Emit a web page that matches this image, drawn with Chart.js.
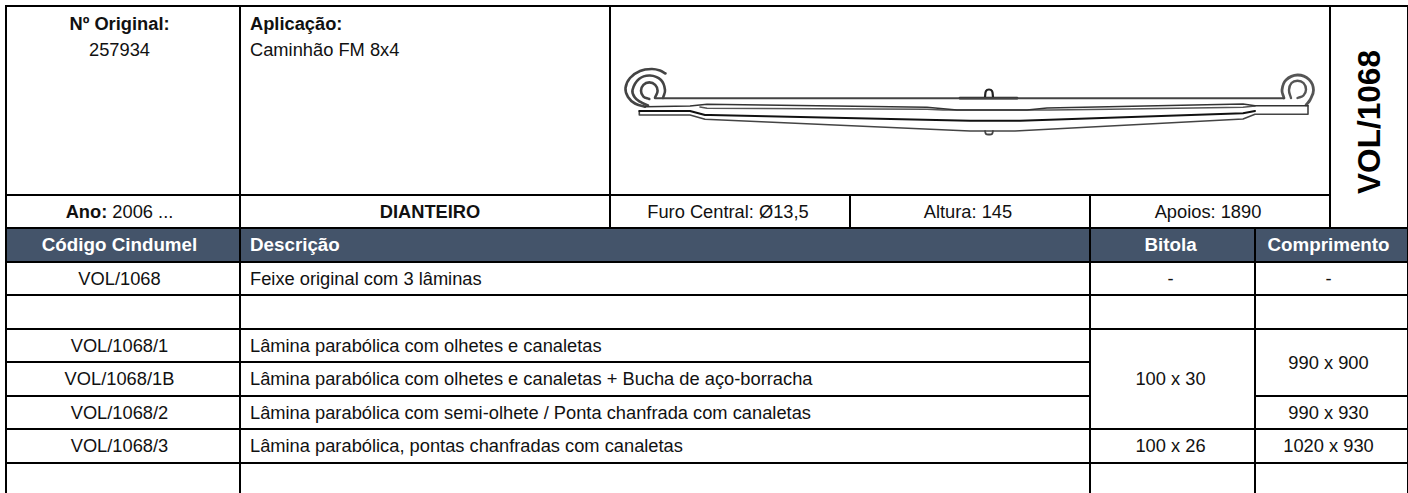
<!DOCTYPE html>
<html lang="pt">
<head>
<meta charset="utf-8">
<title>VOL/1068</title>
<script src="https://cdn.jsdelivr.net/npm/chart.js@4"></script>
<style>
html, body { margin: 0; padding: 0; background: #fff; overflow: hidden; width: 1408px; height: 493px; }
body { font-family: "Liberation Sans", Arial, sans-serif; font-size: 18.3px; color: #111; }
#ficha { position: absolute; left: 5px; top: 5px; width: 1402px; border-collapse: collapse; table-layout: fixed; }
#ficha td { border: 2px solid #000; padding: 0 11px 0 7px; text-align: center; vertical-align: middle; white-space: nowrap; overflow: hidden; line-height: 20px; }
#ficha td.esq { text-align: left; padding: 0 0 0 9px; }
#ficha td.topo { vertical-align: top; padding-top: 4px; line-height: 26px; }
#ficha td.primeira { padding-left: 4px; }
#ficha td.comp { padding: 0 15px 0 9px; }
#ficha td.posicao { padding: 0 0 0 10px; }
#ficha tr.cab td { background: #44546a; color: #fff; font-weight: bold; font-size: 18.8px; }
#ficha tr.fim td { border-bottom: none; }
#ficha td.codigo { padding: 0; }
#ficha td.codigo div { writing-mode: vertical-rl; transform: rotate(180deg); font-weight: bold; font-size: 31.6px; margin: 0 auto; height: 220px; line-height: 71px; text-align: center; color: #000; padding-bottom: 10px; box-sizing: border-box; }
#feixeBox { position: absolute; left: 611px; top: 7px; width: 718px; height: 187px; }
</style>
</head>
<body>
<table id="ficha">
    <colgroup>
        <col style="width:234px"><col style="width:370px"><col style="width:240px"><col style="width:240px"><col style="width:165px"><col style="width:75px"><col style="width:78px">
    </colgroup>
    <tbody id="corpo"></tbody>
</table>
<div id="feixeBox"><canvas id="feixe" width="718" height="187"></canvas></div>

<script>
// Dados da ficha
const numeroOriginal = '257934';
const aplicacao = 'Caminhão FM 8x4';
const ano = '2006 ...';
const posicao = 'DIANTEIRO';
const furoCentral = 'Furo Central: Ø13,5';
const altura = 'Altura: 145';
const apoios = 'Apoios: 1890';
const codigoFeixe = 'VOL/1068';

const colunas = ['Código Cindumel', 'Descrição', 'Bitola', 'Comprimento'];
const codigos = ['VOL/1068', '', 'VOL/1068/1', 'VOL/1068/1B', 'VOL/1068/2', 'VOL/1068/3', ''];
const descricoes = [
    'Feixe original com 3 lâminas',
    '',
    'Lâmina parabólica com olhetes e canaletas',
    'Lâmina parabólica com olhetes e canaletas + Bucha de aço-borracha',
    'Lâmina parabólica com semi-olhete / Ponta chanfrada com canaletas',
    'Lâmina parabólica, pontas chanfradas com canaletas',
    ''
];
// null = célula coberta pelo rowspan da linha de cima
const bitolas = [['-', 1], ['', 1], ['100 x 30', 3], null, null, ['100 x 26', 1], ['', 1]];
const comprimentos = [['-', 1], ['', 1], ['990 x 900', 2], null, ['990 x 930', 1], ['1020 x 930', 1], ['', 1]];

// Desenho do feixe (x, y)
const folhaTopo = [[655, 98.3], [1284, 98.3]];
const grampo = [[960, 98.2], [1017, 98.2]];
const parafusoCima = [[985, 97], [986, 91], [989, 89.5], [992, 91], [993, 97]];
const parafusoBaixo = [[985, 131], [986, 134], [989, 134.5], [992, 134], [993, 131]];
const segundaAlta = [[645, 106.7], [690, 106], [707, 104.3], [927, 107.3], [957, 110], [1027, 110], [1047, 108], [1243, 104], [1255, 105.7], [1308, 105.7]];
const segundaBaixa = [[700, 107], [707, 108.3], [927, 109.3], [943, 110], [1050, 110], [1110, 109.3], [1243, 107.3], [1255, 106]];
const terceiraAlta = [[639.3, 111], [690, 111], [705, 115], [710, 115], [970, 120.7], [1020, 120.7], [1243, 113.3], [1255, 111]];
const terceiraBaixa = [[639.3, 111], [639.3, 115], [690, 115], [705, 119.3], [970, 131], [1015, 131], [1243, 119], [1255, 114.3], [1308, 114.3], [1308, 105.7]];
const olhalEsqInterno = [[655, 97.7], [657.6, 90.7], [655.2, 84.8], [649.3, 82.4], [643.4, 84.8], [641, 90.7], [643.4, 96.6], [649.3, 99]];
const olhalEsqMeio = [[663, 98], [665, 90], [661, 80], [650, 75.5], [639, 79], [632.5, 90], [634.5, 97], [640, 101.7], [648, 105.5]];
const olhalEsqExterno = [[665.5, 73.5], [660, 70.5], [651.7, 69], [640, 71], [630, 78], [625.5, 88], [628, 97], [635, 103.5], [645, 106.7]];
const olhalDirInterno = [[1291, 98], [1289, 90], [1291.5, 83], [1297.5, 80.7], [1303.5, 83], [1306, 89.5], [1303.5, 95.5], [1297.5, 98]];
const olhalDirExterno = [[1284, 98], [1282, 90], [1286, 80], [1297.5, 75], [1309, 79.5], [1313.5, 90], [1310, 100], [1306, 105]];

function td(texto, classe, colspan, rowspan) {
    const cel = document.createElement('td');
    if (classe) cel.className = classe;
    if (colspan) cel.colSpan = colspan;
    if (rowspan) cel.rowSpan = rowspan;
    if (texto) cel.innerHTML = texto;
    return cel;
}

function montaTabela() {
    const corpo = document.getElementById('corpo');
    const alturas = [33, 34, 33, 34, 33, 34, 40];

    const l1 = document.createElement('tr');
    l1.style.height = '189px';
    l1.appendChild(td(`<b>Nº Original:</b><br>${numeroOriginal}`, 'topo primeira'));
    l1.appendChild(td(`<b>Aplicação:</b><br>${aplicacao}`, 'topo esq'));
    l1.appendChild(td('', '', 4));
    l1.appendChild(td(`<div>${codigoFeixe}</div>`, 'codigo', 1, 2));
    corpo.appendChild(l1);

    const l2 = document.createElement('tr');
    l2.style.height = '33px';
    l2.appendChild(td(`<b>Ano:</b> ${ano}`, 'primeira'));
    l2.appendChild(td(`<b>${posicao}</b>`, 'posicao'));
    l2.appendChild(td(furoCentral));
    l2.appendChild(td(altura));
    l2.appendChild(td(apoios, '', 2));
    corpo.appendChild(l2);

    const cab = document.createElement('tr');
    cab.className = 'cab';
    cab.style.height = '34px';
    cab.appendChild(td(colunas[0], 'primeira'));
    cab.appendChild(td(colunas[1], 'esq', 3));
    cab.appendChild(td(colunas[2]));
    cab.appendChild(td(colunas[3], 'comp', 2));
    corpo.appendChild(cab);

    codigos.forEach((codigo, i) => {
        const linha = document.createElement('tr');
        linha.style.height = alturas[i] + 'px';
        if (i === codigos.length - 1) linha.className = 'fim';
        linha.appendChild(td(codigo, 'primeira'));
        linha.appendChild(td(descricoes[i], 'esq', 3));
        if (bitolas[i]) linha.appendChild(td(bitolas[i][0], '', 1, bitolas[i][1]));
        if (comprimentos[i]) linha.appendChild(td(comprimentos[i][0], 'comp', 2, comprimentos[i][1]));
        corpo.appendChild(linha);
    });
}

function traco(pontos, cor, largura, curva) {
    return {
        data: pontos.map(p => ({ x: p[0], y: p[1] })),
        borderColor: cor,
        borderWidth: largura,
        tension: curva ? 0.4 : 0,
        pointRadius: 0,
        showLine: true,
        fill: false,
        borderCapStyle: 'round',
        borderJoinStyle: 'round'
    };
}

function desenhaFeixe() {
    const ctx = document.getElementById('feixe').getContext('2d');
    new Chart(ctx, {
        type: 'scatter',
        data: {
            datasets: [
                traco(folhaTopo, '#444', 2),
                traco(grampo, '#222', 2.8),
                traco(parafusoCima, '#222', 2.2, true),
                traco(parafusoBaixo, '#444', 1.8, true),
                traco(segundaAlta, '#333', 1.6),
                traco(segundaBaixa, '#555', 1.6),
                traco(terceiraAlta, '#111', 2),
                traco(terceiraBaixa, '#444', 1.6),
                traco(olhalEsqInterno, '#444', 2.6, true),
                traco(olhalEsqInterno, '#ccc', 0.8, true),
                traco(olhalEsqMeio, '#444', 2.6, true),
                traco(olhalEsqMeio, '#ccc', 0.8, true),
                traco(olhalEsqExterno, '#444', 2.6, true),
                traco(olhalEsqExterno, '#ccc', 0.8, true),
                traco(olhalDirInterno, '#555', 2.4, true),
                traco(olhalDirInterno, '#ccc', 0.8, true),
                traco(olhalDirExterno, '#555', 2.8, true),
                traco(olhalDirExterno, '#ccc', 1, true)
            ]
        },
        options: {
            responsive: false,
            animation: false,
            layout: { padding: 0 },
            plugins: { legend: { display: false }, tooltip: { enabled: false } },
            scales: {
                x: { type: 'linear', display: false, min: 611, max: 1329 },
                y: { type: 'linear', display: false, min: 7, max: 194, reverse: true }
            }
        }
    });
}

montaTabela();
desenhaFeixe();
</script>
</body>
</html>
